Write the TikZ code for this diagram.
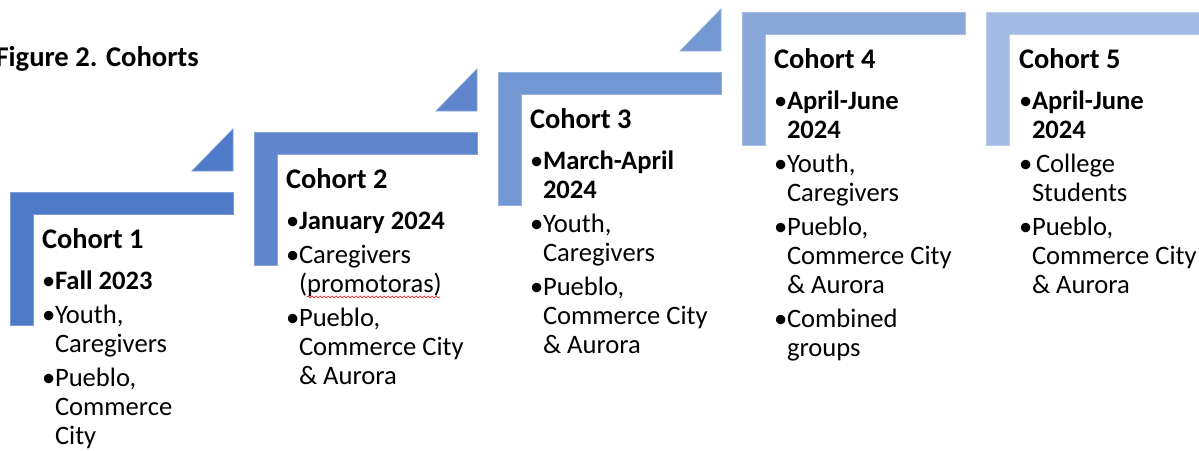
\documentclass[tikz,border=0pt]{standalone}
\usepackage{fontspec}
\setmainfont{Carlito}
\usetikzlibrary{decorations.pathmorphing}

% step colours, dark to light
\definecolor{stepA}{HTML}{4F7AC8}
\definecolor{stepB}{HTML}{5F86CC}
\definecolor{stepC}{HTML}{7297D3}
\definecolor{stepD}{HTML}{8AA7DA}
\definecolor{stepE}{HTML}{A4BBE3}

\tikzset{
  bracket/.style={fill=#1, draw=#1!75!white, line width=0.8pt},
  wedge/.style={fill=#1, draw=#1!75!white, line width=0.8pt},
  cohorttext/.style={anchor=base west, inner sep=0pt, outer sep=0pt},
}

% L-shaped step with its small triangle: x0, y0, colour
\newcommand{\stepshape}[3]{%
  \path[bracket=#3] (#1,#2) -- ++(223,0) -- ++(0,22) -- ++(-200,0)
        -- ++(0,111) -- ++(-23,0) -- cycle;
  \path[wedge=#3] (#1+182,#2-21) -- (#1+223,#2-21) -- (#1+223,#2-63) -- cycle;
}

% text block pieces
\newcommand{\ctitle}[1]{{\fontsize{28.4}{29}\selectfont\bfseries #1\par}\vskip 12pt}
\newcommand{\bul}[1]{\hangindent=13pt\hangafter=1\makebox[13pt][l]{•}#1\par\vskip 5pt}
\newcommand{\cblock}[1]{\vtop{\hsize=230pt\parindent=0pt\parskip=0pt
  \rightskip=0pt plus 1fil\fontsize{26.6}{29}\selectfont #1}}

\begin{document}
\begin{tikzpicture}[x=1pt,y=-1pt]
\useasboundingbox (0,0) rectangle (1199,450);
\clip (0,0) rectangle (1199,450);

\stepshape{10}{192}{stepA}
\stepshape{254}{132}{stepB}
\stepshape{498}{72}{stepC}
\stepshape{742}{12}{stepD}
\stepshape{986}{12}{stepE}

\node[anchor=base east, inner sep=0pt, font=\fontsize{28.6}{29}\selectfont\bfseries]
  (fig) at (199,66) {Figure 2. Cohorts};

\node[cohorttext] (c1) at (42,248) {\cblock{%
  \ctitle{Cohort 1}
  \bul{\textbf{Fall 2023}}
  \bul{Youth,\newline Caregivers}
  \bul{Pueblo,\newline Commerce\newline City}}};

\node[cohorttext] (c2) at (286,188) {\cblock{%
  \ctitle{Cohort 2}
  \bul{\textbf{January 2024}}
  \bul{Caregivers\newline (promotoras)}
  \bul{Pueblo,\newline Commerce City\newline \& Aurora}}};

\node[cohorttext] (c3) at (530,128) {\cblock{%
  \ctitle{Cohort 3}
  \bul{\textbf{March-April\newline 2024}}
  \bul{Youth,\newline Caregivers}
  \bul{Pueblo,\newline Commerce City\newline \& Aurora}}};

\node[cohorttext] (c4) at (774,68) {\cblock{%
  \ctitle{Cohort 4}
  \bul{\textbf{April-June\newline 2024}}
  \bul{Youth,\newline Caregivers}
  \bul{Pueblo,\newline Commerce City\newline \& Aurora}
  \bul{Combined\newline groups}}};

\node[cohorttext] (c5) at (1019,68) {\cblock{%
  \ctitle{Cohort 5}
  \bul{\textbf{April-June\newline 2024}}
  \bul{\hspace{4pt}College\newline Students}
  \bul{Pueblo,\newline Commerce City\newline \& Aurora}}};

% spell-check squiggle under "promotoras"
\draw[red, line width=0.6pt, decorate,
      decoration={snake, amplitude=0.9pt, segment length=4pt}]
  (307,297) -- (440,297);
\end{tikzpicture}
\end{document}
